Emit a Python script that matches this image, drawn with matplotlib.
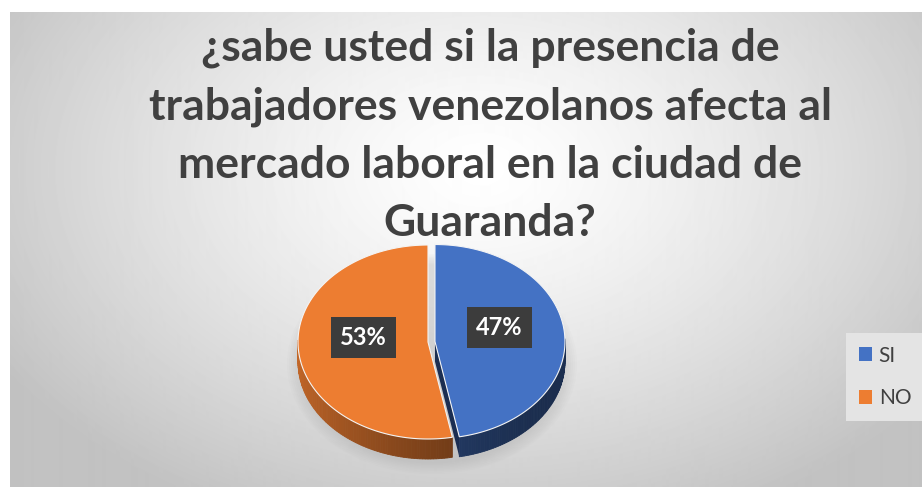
import numpy as np
import matplotlib
matplotlib.use('Agg')
import matplotlib.pyplot as plt
from matplotlib.patches import Polygon, Ellipse, Patch
from matplotlib.colors import to_rgb

# chart data
labels = ['SI', 'NO']
values = [47, 53]
pct_labels = ['47%', '53%']
title_lines = ['¿sabe usted si la presencia de',
               'trabajadores venezolanos afecta al',
               'mercado laboral en la ciudad de',
               'Guaranda?']

top_colors = ['#4472C4', '#ED7D31']
explode_px = [7, 0]

W, H = 922, 487
fig = plt.figure(figsize=(W / 100, H / 100), dpi=100)
ax = fig.add_axes([0, 0, 1, 1])
ax.set_xlim(0, W)
ax.set_ylim(H, 0)
ax.axis('off')

# radial gradient background of the chart area
x0, y0 = 10, 12
gx, gy = np.meshgrid(np.arange(x0, W), np.arange(y0, H))
d = np.sqrt(((gx - 480) / 560.0) ** 2 + ((gy - 170) / 380.0) ** 2)
val = 1 - 0.24 * np.clip(d, 0, 1) ** 1.3
ax.imshow(val, cmap='gray', vmin=0, vmax=1, extent=(x0, W, H, y0),
          interpolation='bilinear', zorder=0, aspect='auto')

# pie geometry (pixels)
cx, cy = 428, 342
rx, ry = 130, 97
depth = 20


def pt(c, theta, dy=0):
    t = np.radians(theta)
    return (c[0] + rx * np.cos(t), c[1] - ry * np.sin(t) + dy)


def shade(color, theta):
    t = np.radians(theta)
    f = 0.62 - 0.2 * np.cos(t) + 0.1 * np.sin(t)
    return tuple(np.clip(np.array(to_rgb(color)) * f, 0, 1))


# soft shadow
for k in range(8):
    ax.add_patch(Ellipse((cx + 4, cy + 22), 2 * rx + 30 - 4 * k, 2 * ry + 26 - 3 * k,
                         facecolor='#9a9a9a', edgecolor='none', alpha=0.035, zorder=1))

total = float(sum(values))
cum = 0
wedges = []
for v, col, ex in zip(values, top_colors, explode_px):
    t1 = 90 - cum / total * 360
    t2 = 90 - (cum + v) / total * 360
    mid = np.radians((t1 + t2) / 2)
    c = (cx + ex * np.cos(mid), cy - ex * np.sin(mid) * ry / rx)
    wedges.append((t1, t2, c, col))
    cum += v

# sides
for t1, t2, c, col in wedges:
    ts = np.linspace(t1, t2, 160)
    for a, b in zip(ts[:-1], ts[1:]):
        m = (a + b) / 2
        if np.sin(np.radians(m)) >= 0.02:
            continue
        quad = [pt(c, a), pt(c, b), pt(c, b, depth), pt(c, a, depth)]
        ax.add_patch(Polygon(quad, closed=True, facecolor=shade(col, m),
                             edgecolor=shade(col, m), linewidth=0.6, zorder=2))

# cut face of the exploded slice
t1, t2, c, col = wedges[0]
face = [c, pt(c, t2), pt(c, t2, depth), (c[0], c[1] + depth)]
ax.add_patch(Polygon(face, closed=True, facecolor='#1b2e52', edgecolor='none', zorder=2))

# top faces
for t1, t2, c, col in wedges[::-1]:
    ts = np.linspace(t1, t2, 200)
    poly = [c] + [pt(c, t) for t in ts]
    ax.add_patch(Polygon(poly, closed=True, facecolor=col, edgecolor='#f4f4f4',
                         linewidth=0.8, zorder=3))

# data labels
for (t1, t2, c, col), lab in zip(wedges, pct_labels):
    m = np.radians((t1 + t2) / 2)
    lx = c[0] + 0.5 * rx * np.cos(m)
    ly = c[1] - 0.5 * ry * np.sin(m) - 9
    ax.text(lx, ly, lab, ha='center', va='center', color='white', fontsize=17,
            fontweight='bold', family='Lato', zorder=5,
            bbox=dict(boxstyle='square,pad=0.38', facecolor='#3c3c3c', edgecolor='none'))

# title
ax.text(490, 28, '\n'.join(title_lines), ha='center', va='top', fontsize=32,
        fontweight='bold', family='Lato', color='#404040', linespacing=1.55, zorder=5)

# legend
handles = [Patch(facecolor=col, edgecolor='none') for col in top_colors]
leg = ax.legend(handles, labels, loc='center left', bbox_to_anchor=(846 / W, 1 - 377 / H),
                fontsize=15, frameon=True, facecolor='#e4e4e4', edgecolor='none',
                framealpha=1, fancybox=False, handlelength=0.67, handleheight=0.67,
                handletextpad=0.3, labelspacing=1.1, borderpad=0.6, borderaxespad=0)
for t in leg.get_texts():
    t.set_color('#404040')
    t.set_family('Lato')

fig.savefig('out.png', dpi=100, facecolor='white')
